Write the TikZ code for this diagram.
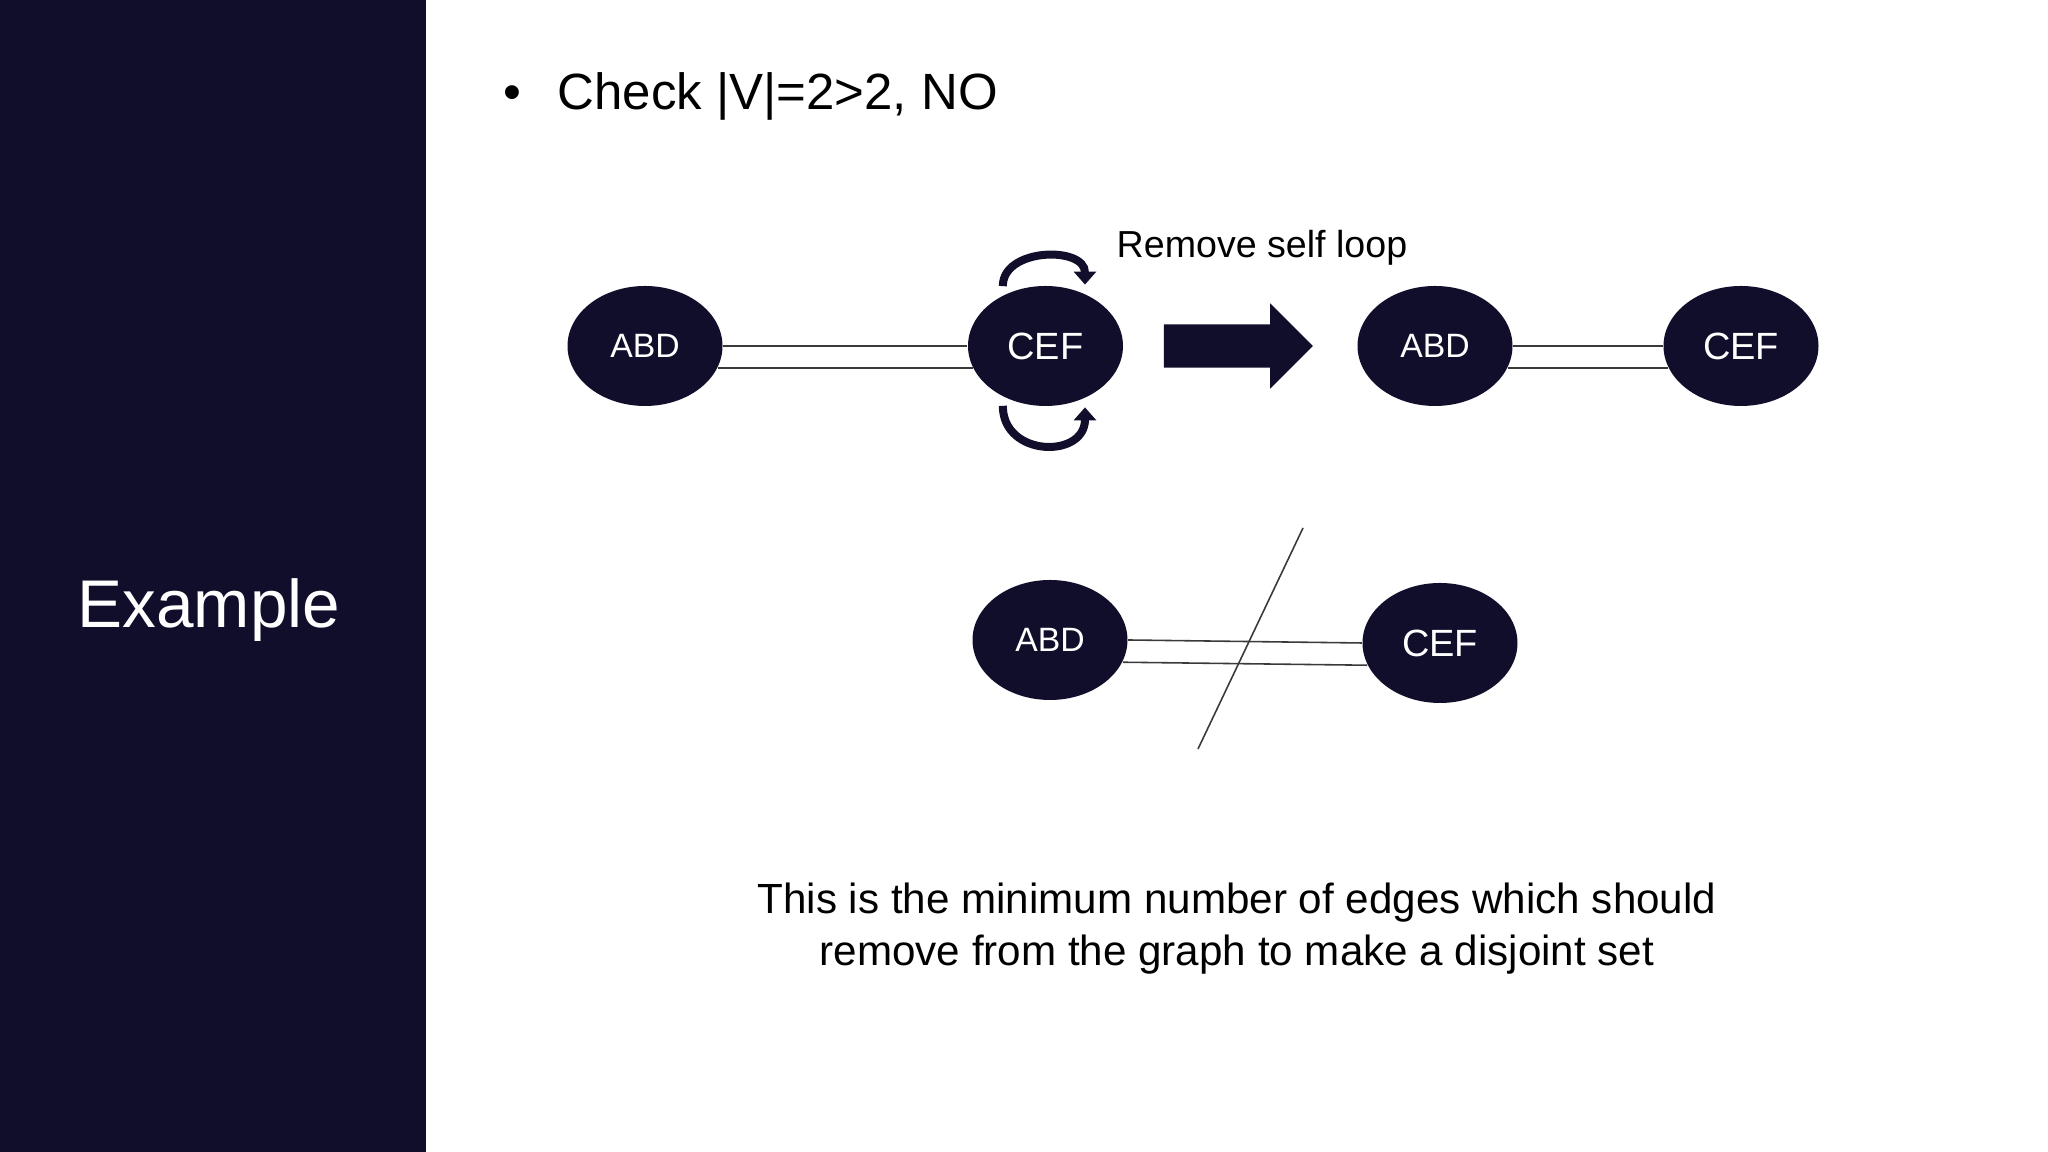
\documentclass[tikz,border=0pt]{standalone}
\usepackage{fontspec}
\setmainfont{Liberation Sans}
\usetikzlibrary{arrows.meta,shapes.arrows,shapes.geometric}

\definecolor{navy}{HTML}{110E2B}
\definecolor{edgegray}{HTML}{3A3A3A}

\tikzset{
  vertex/.style={ellipse, fill=navy, text=white, minimum width=1.55cm, minimum height=1.2cm, inner sep=0pt},
  edge/.style={draw=edgegray, line width=0.45pt},
  selfloop/.style={draw=navy, line width=0.08cm, -{Triangle[width=0.22cm,length=0.13cm]}},
  bigarrow/.style={single arrow, fill=navy, inner xsep=0pt, inner ysep=0.21cm, single arrow head extend=0.21cm, minimum height=1.49cm}
}

\begin{document}
\begin{tikzpicture}
        \useasboundingbox (0,0) rectangle (20.48,11.52);
        \fill[white] (0,0) rectangle (20.48,11.52);

        % Side bar
        \fill[navy] (0,0) rectangle (4.26,11.52);
        \node[anchor=base, text=white, font=\fontsize{19.2}{23}\selectfont] (title) at (2.09,5.24) {Example};

        % Bullet line
        \node[anchor=base west, inner sep=0pt, font=\fontsize{14.5}{17}\selectfont] (check) at (5.57,10.42) {Check |V|=2>2, NO};
        \node[anchor=base, font=\fontsize{14.5}{17}\selectfont] (bullet) at (5.12,10.42) {\textbullet};

        % Graph with self loops
        \node[vertex, font=\fontsize{9.6}{11}\selectfont] (abd1) at (6.45,8.06) {ABD};
        \node[vertex, font=\fontsize{10.8}{12}\selectfont] (cef1) at (10.455,8.06) {CEF};
        \draw[edge] (abd1.east) -- (cef1.west);
        \draw[edge] (abd1.-17) -- (cef1.197);
        \draw[selfloop] ([yshift=0.09cm]cef1.130) to[out=90,in=90,looseness=1.2] ([yshift=0.09cm]cef1.53);
        \draw[selfloop] ([yshift=-0.09cm]cef1.230) to[out=-90,in=-90,looseness=1.6] ([yshift=-0.09cm]cef1.307);
        \node[anchor=base west, inner sep=0pt, font=\fontsize{10.7}{13}\selectfont] (remove) at (11.16,8.94) {Remove self loop};

        % Big arrow
        \node[bigarrow] (step arrow) at (12.275,8.06) {};

        % Graph after removal
        \node[vertex, font=\fontsize{9.6}{11}\selectfont] (abd2) at (14.35,8.06) {ABD};
        \node[vertex, font=\fontsize{10.8}{12}\selectfont] (cef2) at (17.41,8.06) {CEF};
        \draw[edge] (abd2.east) -- (cef2.west);
        \draw[edge] (abd2.-17) -- (cef2.197);

        % Cut graph
        \node[vertex, font=\fontsize{9.6}{11}\selectfont] (abd3) at (10.50,5.12) {ABD};
        \node[vertex, font=\fontsize{10.8}{12}\selectfont] (cef3) at (14.40,5.09) {CEF};
        \draw[edge] (abd3.east) -- (cef3.west);
        \draw[edge] (abd3.-17) -- (cef3.197);
        \coordinate (cut top) at (13.03,6.24);
        \coordinate (cut bot) at (11.98,4.03);
        \draw[edge] (cut top) -- (cut bot);

        % Note
        \node[anchor=base, align=center, font=\fontsize{12}{15}\selectfont] (note) at (12.37,1.86)
            {This is the minimum number of edges which should\\remove from the graph to make a disjoint set};
\end{tikzpicture}
\end{document}
